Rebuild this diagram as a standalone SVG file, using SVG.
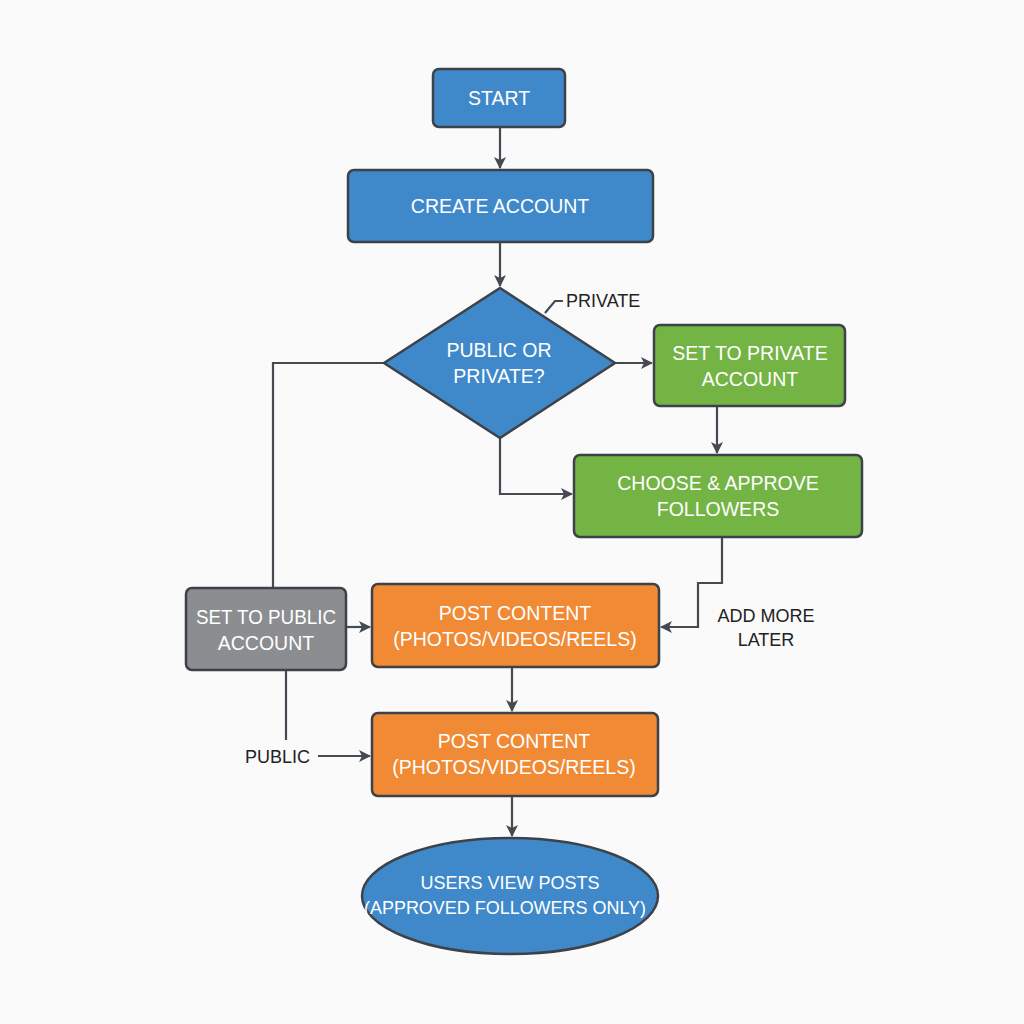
<svg xmlns="http://www.w3.org/2000/svg" width="1024" height="1024" viewBox="0 0 1024 1024">
<defs>
<marker id="ah" viewBox="0 0 12 12" refX="11" refY="6" markerWidth="12" markerHeight="12" markerUnits="userSpaceOnUse" orient="auto">
<path d="M0,0 L12,6 L0,12 L3,6 Z" fill="#444a50"/>
</marker>
<style>
.n{stroke:#3d4248;stroke-width:2.5}
.blue{fill:#3f89ca}
.green{fill:#73b445}
.orange{fill:#f08a35}
.gray{fill:#8b8d90}
.t{font-family:"Liberation Sans",Arial,sans-serif;font-size:19.5px;fill:#ffffff;text-anchor:middle}
.s{font-size:18px}
.l{font-family:"Liberation Sans",Arial,sans-serif;font-size:18px;fill:#222222}
.c{fill:none;stroke:#444a50;stroke-width:2.2}
</style>
</defs>
<rect width="1024" height="1024" fill="#fafafa"/>
<g id="connectors">
<path class="c" d="M500,127 V168" marker-end="url(#ah)"/>
<path class="c" d="M500,242 V286" marker-end="url(#ah)"/>
<path class="c" d="M615,363 H652" marker-end="url(#ah)"/>
<path class="c" d="M545,313 L555,301 H563"/>
<path class="c" d="M717,406 V453" marker-end="url(#ah)"/>
<path class="c" d="M500,438 V494 H572" marker-end="url(#ah)"/>
<path class="c" d="M722,537 V583 H698 V627 H661" marker-end="url(#ah)"/>
<path class="c" d="M384,363 H273 V588"/>
<path class="c" d="M346,627 H370" marker-end="url(#ah)"/>
<path class="c" d="M512,667 V711" marker-end="url(#ah)"/>
<path class="c" d="M286,670 V740"/>
<path class="c" d="M318,756 H370" marker-end="url(#ah)"/>
<path class="c" d="M512,796 V836" marker-end="url(#ah)"/>
</g>
<g id="start">
<rect class="n blue" x="433" y="69" width="132" height="58" rx="6"/>
<text class="t" x="499" y="105">START</text>
</g>
<g id="create-account">
<rect class="n blue" x="348" y="170" width="305" height="72" rx="6"/>
<text class="t" x="500" y="213">CREATE ACCOUNT</text>
</g>
<g id="decision">
<polygon class="n blue" points="500,288 615,363 500,438 384,363"/>
<text class="t" x="499" y="357">PUBLIC OR</text>
<text class="t" x="499" y="383">PRIVATE?</text>
</g>
<g id="private-label">
<text class="l" x="566" y="307">PRIVATE</text>
</g>
<g id="set-private">
<rect class="n green" x="654" y="325" width="191" height="81" rx="6"/>
<text class="t" x="750" y="360">SET TO PRIVATE</text>
<text class="t" x="750" y="386">ACCOUNT</text>
</g>
<g id="choose-approve">
<rect class="n green" x="574" y="455" width="288" height="82" rx="6"/>
<text class="t" x="718" y="490">CHOOSE &amp; APPROVE</text>
<text class="t" x="718" y="516">FOLLOWERS</text>
</g>
<g id="add-more-label">
<text class="l" x="766" y="622" text-anchor="middle">ADD MORE</text>
<text class="l" x="766" y="646" text-anchor="middle">LATER</text>
</g>
<g id="set-public">
<rect class="n gray" x="186" y="588" width="160" height="82" rx="6"/>
<text class="t" x="266" y="624" textLength="140" lengthAdjust="spacingAndGlyphs">SET TO PUBLIC</text>
<text class="t" x="266" y="650">ACCOUNT</text>
</g>
<g id="post-content-1">
<rect class="n orange" x="372" y="584" width="287" height="83" rx="6"/>
<text class="t" x="515" y="620">POST CONTENT</text>
<text class="t" x="515" y="646">(PHOTOS/VIDEOS/REELS)</text>
</g>
<g id="public-label">
<text class="l" x="245" y="763">PUBLIC</text>
</g>
<g id="post-content-2">
<rect class="n orange" x="372" y="713" width="286" height="83" rx="6"/>
<text class="t" x="514" y="748">POST CONTENT</text>
<text class="t" x="514" y="774">(PHOTOS/VIDEOS/REELS)</text>
</g>
<g id="users-view">
<ellipse class="n blue" cx="510" cy="896" rx="148" ry="58"/>
<text class="t s" x="510" y="889">USERS VIEW POSTS</text>
<text class="t s" x="505" y="914" textLength="282" lengthAdjust="spacingAndGlyphs">(APPROVED FOLLOWERS ONLY)</text>
</g>
</svg>
